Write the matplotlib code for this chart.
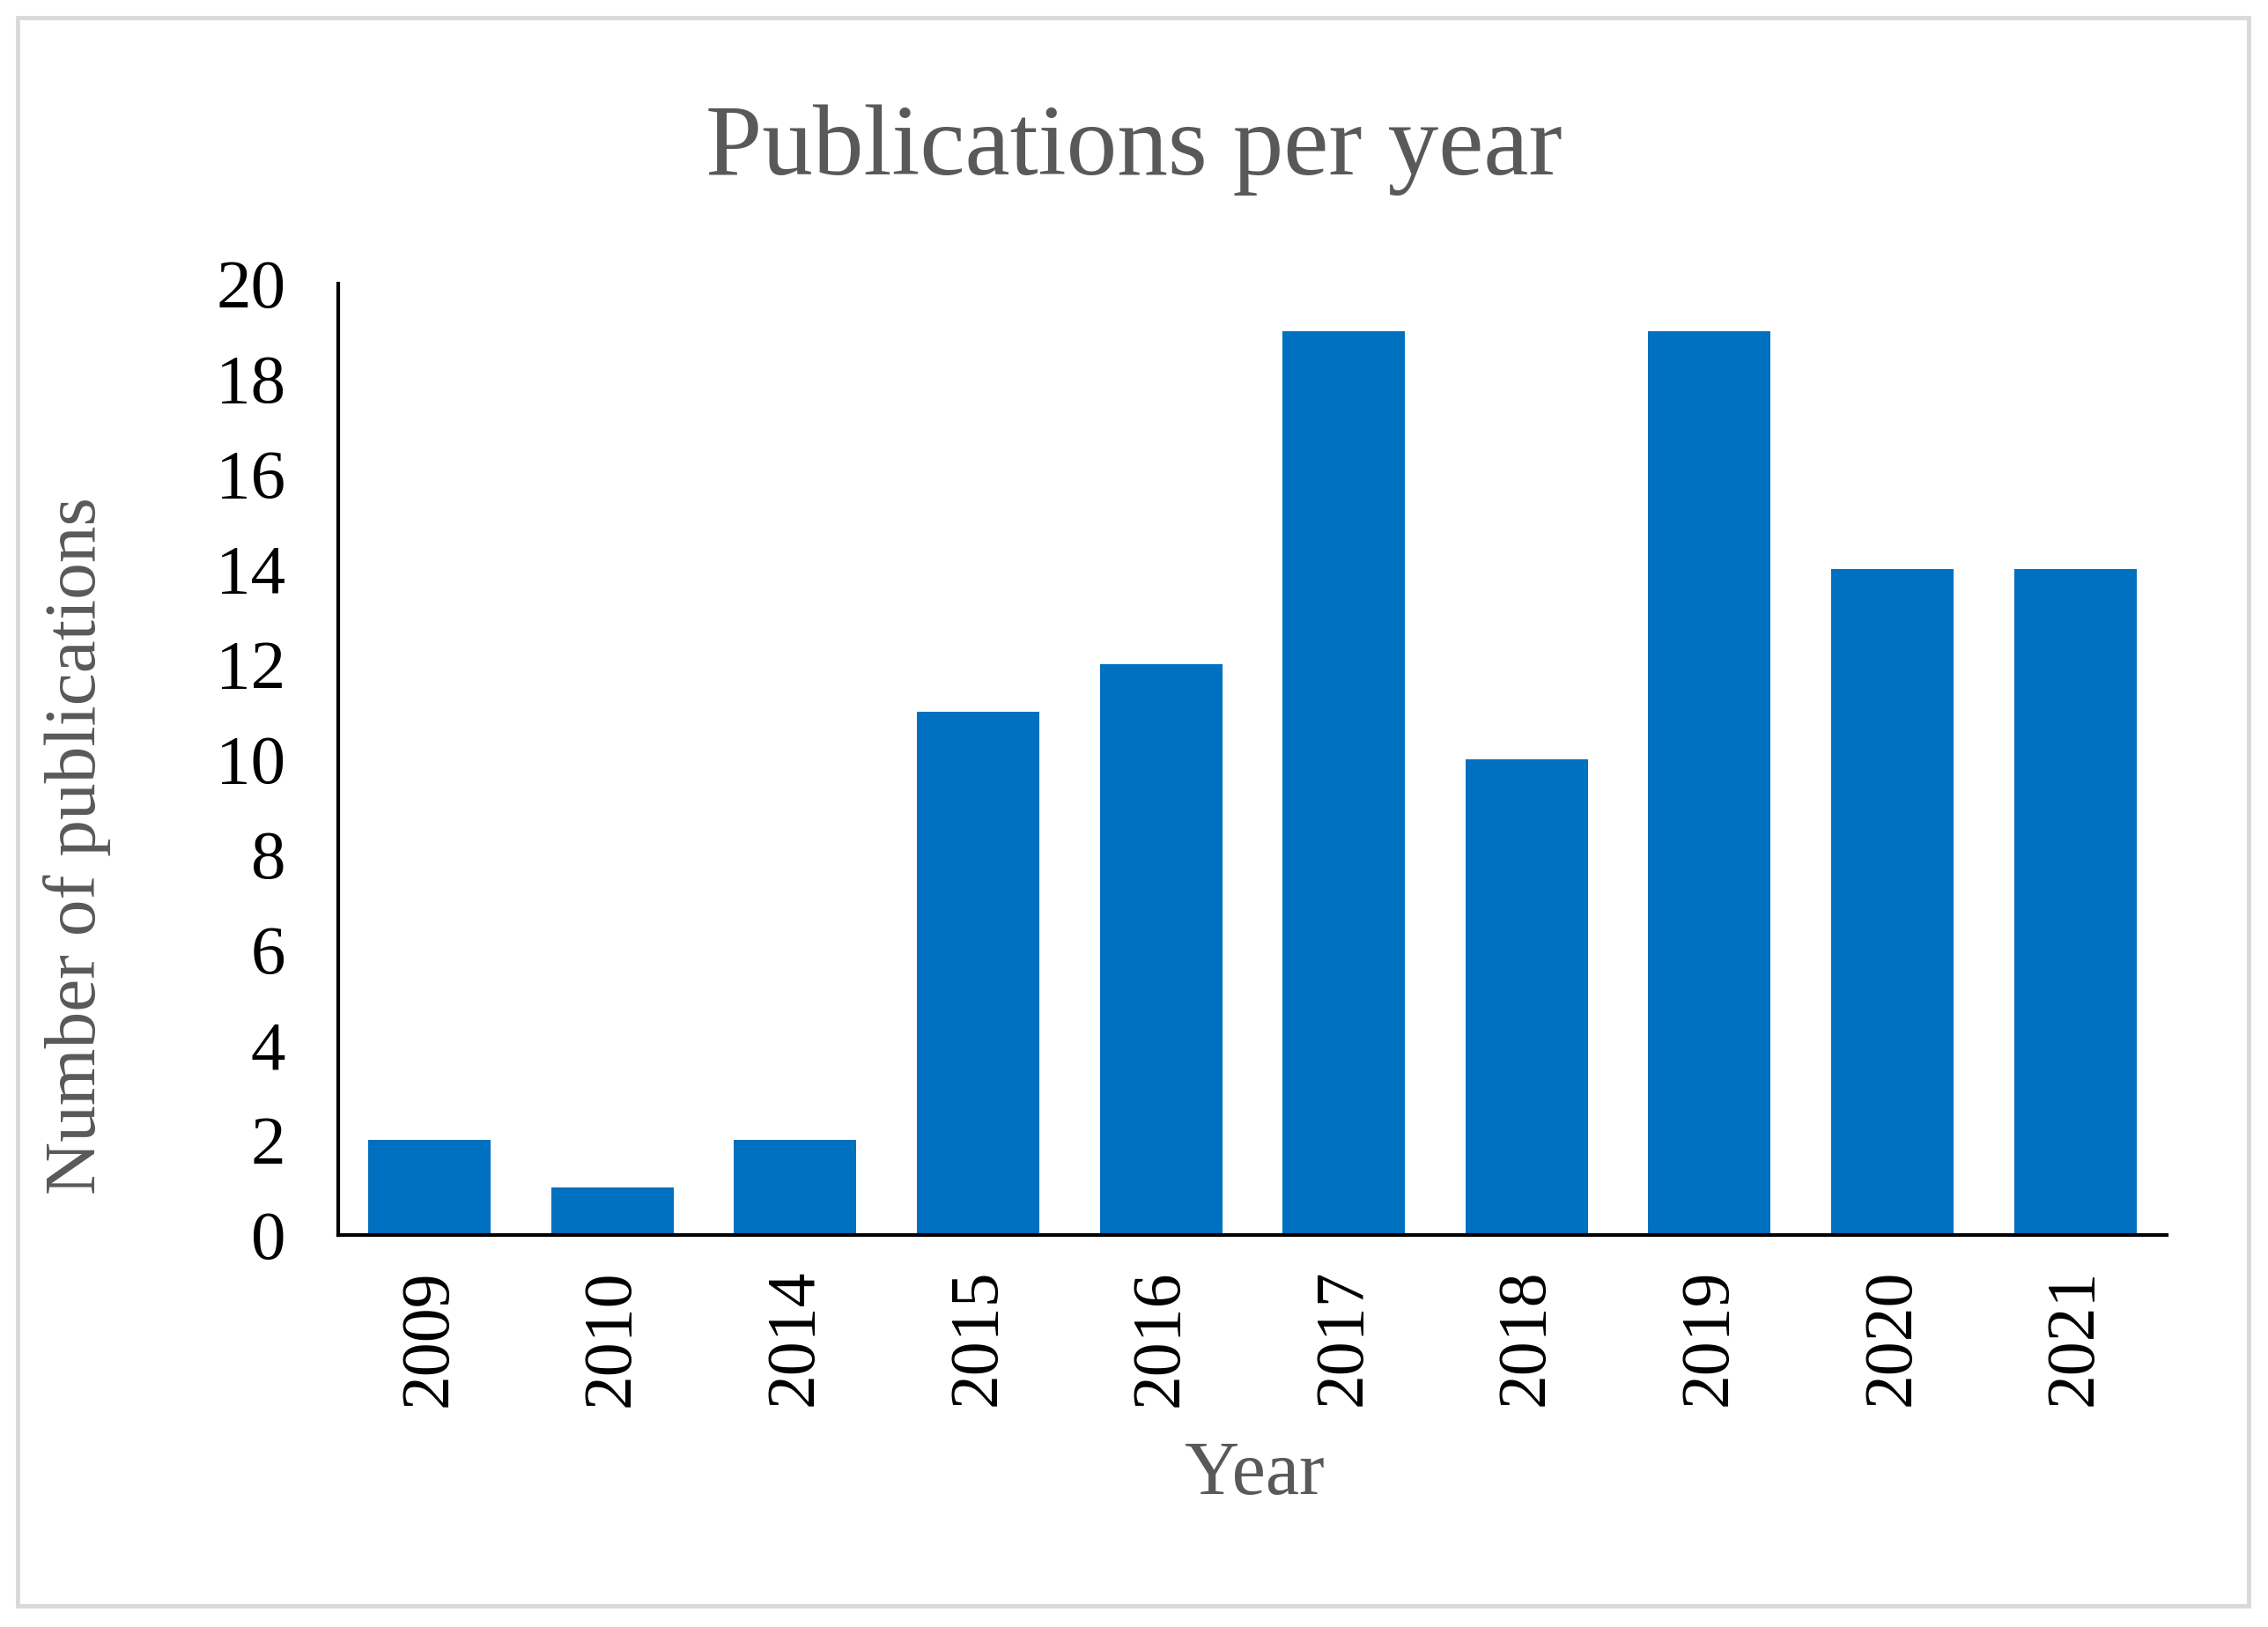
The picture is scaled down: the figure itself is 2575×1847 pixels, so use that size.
import matplotlib.pyplot as plt
from matplotlib.patches import Rectangle

# данные графика
years = ['2009', '2010', '2014', '2015', '2016', '2017', '2018', '2019', '2020', '2021']
counts = [2, 1, 2, 11, 12, 19, 10, 19, 14, 14]
y_ticks = [0, 2, 4, 6, 8, 10, 12, 14, 16, 18, 20]

plt.rcParams['font.family'] = ['Liberation Serif', 'DejaVu Serif']

fig = plt.figure(figsize=(25.75, 18.47), dpi=100)
ax = fig.add_axes([0.1491, 0.2409, 0.8062, 0.5848])

x = range(len(years))
ax.bar(x, counts, width=0.67, color='#0070C0')

ax.set_xlim(-0.5, len(years) - 0.5)
ax.set_ylim(0, 20)
ax.set_yticks(y_ticks)
ax.set_xticks(list(x))
ax.set_xticklabels(years, rotation=90)
ax.tick_params(axis='y', length=0, pad=43, labelsize=57)
ax.tick_params(axis='x', length=0, pad=28, labelsize=56)

for side in ['top', 'right']:
    ax.spines[side].set_visible(False)
for side in ['left', 'bottom']:
    ax.spines[side].set_linewidth(3)

# подписи
fig.text(0.5, 0.893, 'Publications per year', ha='center', va='baseline',
         fontsize=83, color='#595959')
fig.text(0.034, 0.48, 'Number of publications', ha='center', va='center',
         rotation=90, fontsize=60, color='#595959')
fig.text(0.553, 0.093, 'Year', ha='center', va='center',
         fontsize=62, color='#595959')

# рамка вокруг графика
fig.patches.append(Rectangle((20 / 2575, 24 / 1847), 2533 / 2575, 1803 / 1847,
                             transform=fig.transFigure, fill=False,
                             edgecolor='#d9d9d9', linewidth=3.5))

fig.savefig('out.png', dpi=100, facecolor='white')
